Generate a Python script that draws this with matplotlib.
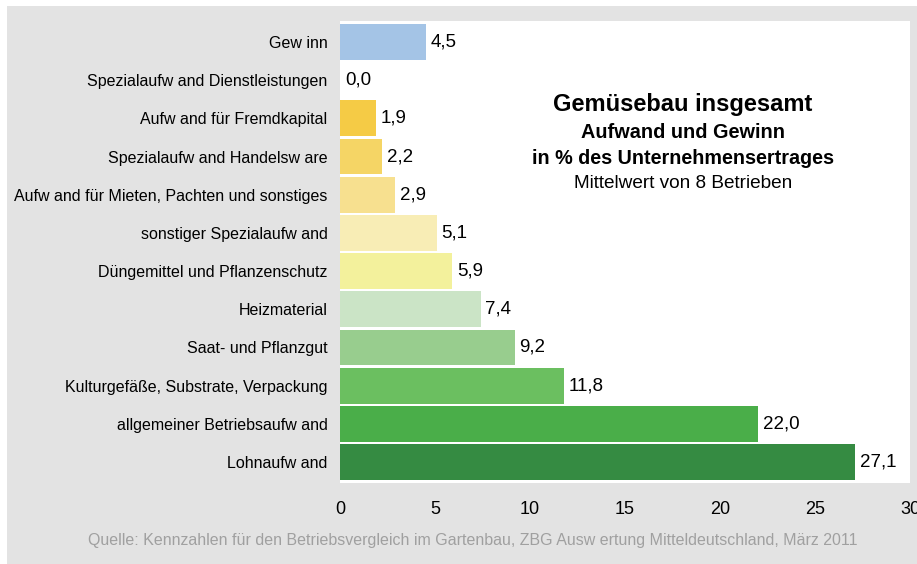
import matplotlib.pyplot as plt
from matplotlib.patches import Rectangle

plt.rcParams['font.family'] = ['Liberation Sans', 'DejaVu Sans']

# data, top to bottom
labels = ['Gew inn', 'Spezialaufw and Dienstleistungen', 'Aufw and für Fremdkapital',
          'Spezialaufw and Handelsw are', 'Aufw and für Mieten, Pachten und sonstiges',
          'sonstiger Spezialaufw and', 'Düngemittel und Pflanzenschutz', 'Heizmaterial',
          'Saat- und Pflanzgut', 'Kulturgefäße, Substrate, Verpackung',
          'allgemeiner Betriebsaufw and', 'Lohnaufw and']
values = [4.5, 0.0, 1.9, 2.2, 2.9, 5.1, 5.9, 7.4, 9.2, 11.8, 22.0, 27.1]
colors = ['#a4c4e6', '#ffffff', '#f5cb45', '#f5d565', '#f7e08f', '#f8edb5',
          '#f3f19c', '#cbe4c6', '#98cd8e', '#6bbf60', '#4aae49', '#358b42']
xticks = [0, 5, 10, 15, 20, 25, 30]

fig = plt.figure(figsize=(9.17, 5.64), dpi=100, facecolor='white')
# gray frame
fig.patches.append(Rectangle((7/917, 0), 1, (564-6)/564, transform=fig.transFigure,
                             facecolor='#e3e3e3', edgecolor='none', zorder=-10))

ax = fig.add_axes([340/917, 81/564, 570/917, 462/564])
ax.set_facecolor('white')
ypos = list(range(len(values)))
ax.barh(ypos, values, height=0.94, color=colors)
for y, v in zip(ypos, values):
    ax.text(v + 0.25, y, f'{v:.1f}'.replace('.', ','), va='center', ha='left', fontsize=13.5)

ax.set_ylim(len(values) - 0.45, -0.55)
ax.set_xlim(0, 30)
ax.set_yticks(ypos)
ax.set_yticklabels(labels, fontsize=11.5)
ax.set_xticks(xticks)
ax.set_xticklabels([str(t) for t in xticks], fontsize=13)
ax.tick_params(length=0)
ax.tick_params(axis='x', pad=13)
ax.tick_params(axis='y', pad=9)
for s in ax.spines.values():
    s.set_visible(False)

fig.text(683/917, 1 - 105/564, 'Gemüsebau insgesamt', ha='center', va='center',
         fontsize=17, fontweight='bold')
fig.text(683/917, 1 - 133/564, 'Aufwand und Gewinn', ha='center', va='center',
         fontsize=14.3, fontweight='bold')
fig.text(683/917, 1 - 158/564, 'in % des Unternehmensertrages', ha='center', va='center',
         fontsize=14.2, fontweight='bold')
fig.text(683/917, 1 - 183/564, 'Mittelwert von 8 Betrieben', ha='center', va='center',
         fontsize=13.7)
fig.text(473/917, 1 - 541/564,
         'Quelle: Kennzahlen für den Betriebsvergleich im Gartenbau, ZBG Ausw ertung Mitteldeutschland, März 2011',
         ha='center', va='center', fontsize=11.5, color='#a0a0a0')

fig.savefig('out.png', dpi=100, facecolor=fig.get_facecolor())
